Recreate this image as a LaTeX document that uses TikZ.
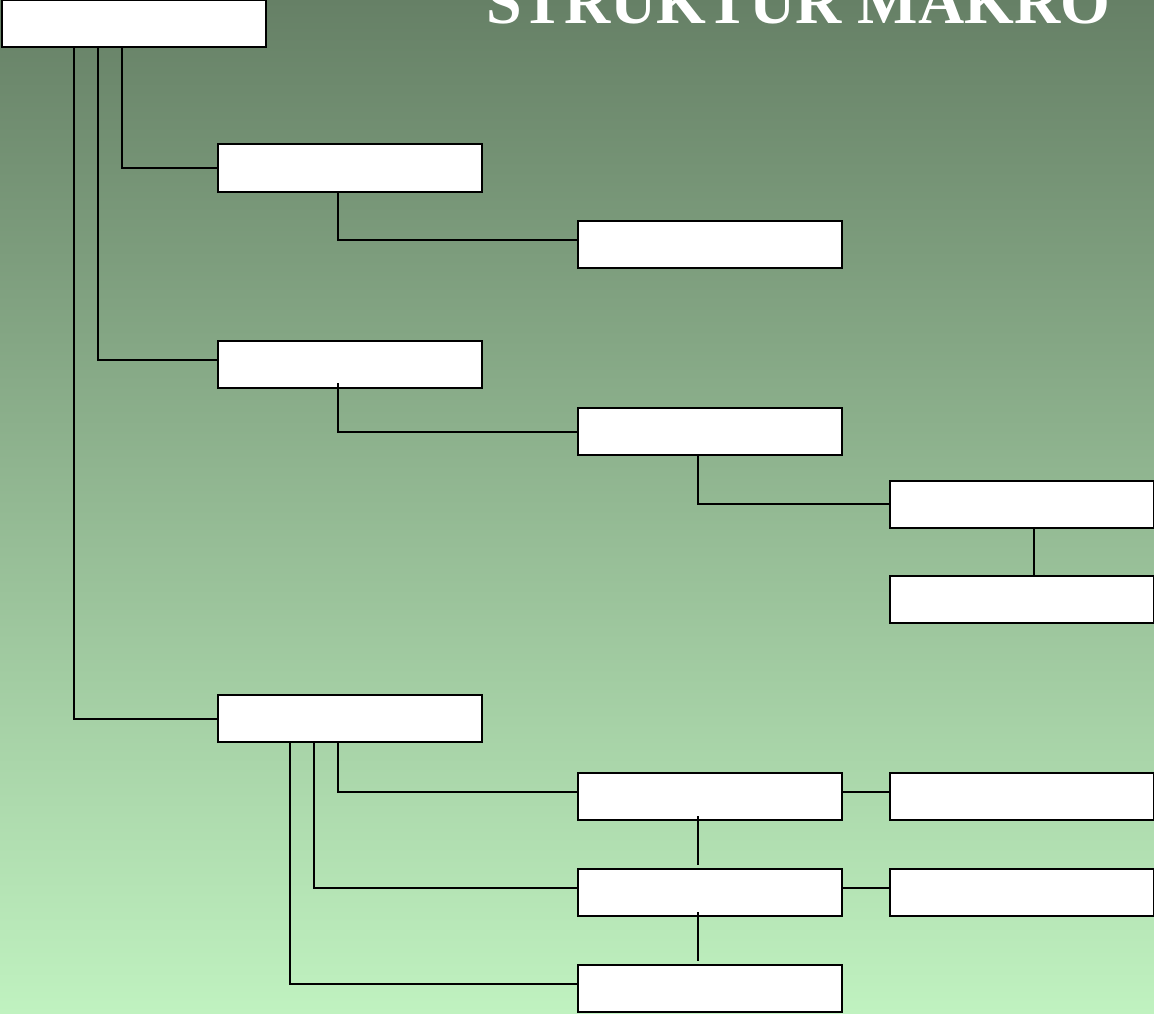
\documentclass[tikz,border=0pt]{standalone}
\usepackage{fontspec}
\setmainfont{Liberation Serif}
\usetikzlibrary{calc}
\definecolor{bgtop}{RGB}{102,128,102}
\definecolor{bgbot}{RGB}{192,242,192}
\tikzset{
  box/.style={draw=black, fill=white, line width=2pt, minimum width=264pt, minimum height=47pt, inner sep=0pt, outer sep=0pt},
  link/.style={draw=black, line width=2pt}
}
\begin{document}
\begin{tikzpicture}[x=1pt,y=-1pt]
\useasboundingbox (0,0) rectangle (1154,1014);
\clip (0,0) rectangle (1154,1014);
\shade[top color=bgtop, bottom color=bgbot] (0,0) rectangle (1154,1014);
\node[anchor=base west, text=white, inner sep=0pt, font=\fontsize{64}{64}\selectfont\bfseries] (title) at (486,24) {STRUKTUR MAKRO};
\node[box] (root) at (134,24) {};
\node[box] (A) at (350,168) {};
\node[box] (A1) at (710,244.5) {};
\node[box] (B) at (350,364.5) {};
\node[box] (B1) at (710,431.5) {};
\node[box] (B2) at (1021.5,504) {};
\node[box] (B3) at (1021.5,599.5) {};
\node[box] (C) at (350,718.5) {};
\node[box] (C1) at (710,796.5) {};
\node[box] (C2) at (710,892.5) {};
\node[box] (C3) at (710,988.5) {};
\node[box] (D1) at (1021.5,796.5) {};
\node[box] (D2) at (1021.5,892.5) {};
% root branches
\draw[link] ($(root.south west)+(120,0)$) |- (A.west);
\draw[link] ($(root.south west)+(96,0)$) |- ($(B.west)+(0,-5)$);
\draw[link] ($(root.south west)+(72,0)$) |- (C.west);
% A branch
\draw[link] ($(A.south west)+(120,0)$) |- ($(A1.west)+(0,-5)$);
% B branch
\draw[link] ($(B.south west)+(120,-5)$) |- (B1.west);
\draw[link] ($(B1.south west)+(120,0)$) |- (B2.west);
\draw[link] ($(B2.south west)+(144,0)$) -- ($(B3.north west)+(144,0)$);
% C branch
\draw[link] ($(C.south west)+(120,0)$) |- ($(C1.west)+(0,-4.5)$);
\draw[link] ($(C.south west)+(96,0)$) |- ($(C2.west)+(0,-5)$);
\draw[link] ($(C.south west)+(72,0)$) |- ($(C3.west)+(0,-5)$);
\draw[link] ($(C1.east)+(0,-4.5)$) -- ($(D1.west)+(0,-4.5)$);
\draw[link] ($(C2.east)+(0,-4.5)$) -- ($(D2.west)+(0,-4.5)$);
\draw[link] ($(C1.south west)+(120,-4)$) -- ($(C2.north west)+(120,-4)$);
\draw[link] ($(C2.south west)+(120,-4)$) -- ($(C3.north west)+(120,-4)$);
\end{tikzpicture}
\end{document}
